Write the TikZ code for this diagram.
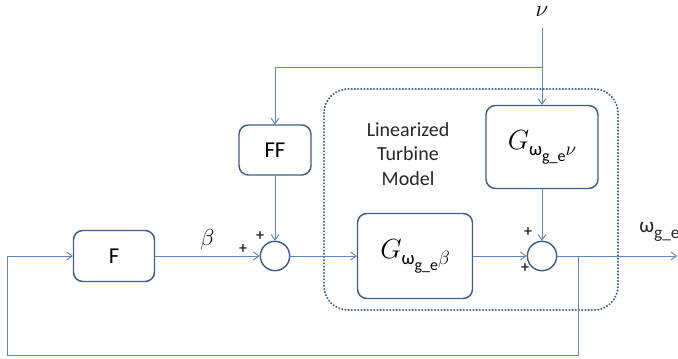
\documentclass[tikz,border=0pt]{standalone}
\usepackage{fontspec}
\setmainfont{Carlito}
\usetikzlibrary{arrows.meta}
\definecolor{wireblue}{RGB}{95,135,185}
\definecolor{boxblue}{RGB}{60,95,140}
\definecolor{dotblue}{RGB}{55,90,135}
% transfer function G with a two level subscript
\newcommand{\gtf}[1]{$G$\raisebox{-5pt}{\fontsize{14}{14}\selectfont ω\raisebox{-4pt}{\fontsize{12}{12}\selectfont g\_e}$#1$}}
\begin{document}
\begin{tikzpicture}[x = 0.75pt, y = -0.75pt,
  wire/.style = {draw = wireblue, line width = 0.7pt},
  sig/.style = {wire, -{Straight Barb[length = 4pt, width = 6pt]}},
  blockbox/.style = {draw = boxblue, line width = 1.1pt, rounded corners = 7pt, fill = white, align = center, inner sep = 0pt},
  sumnode/.style = {draw = boxblue, line width = 1.1pt, circle, minimum size = 22pt, inner sep = 0pt},
  plus/.style = {font = \fontsize{12}{12}\selectfont\bfseries, text = black!80}]
  \def \ymain {256};
  \def \yloop {355};
  \def \ytop {67};
  \def \xnu {542};

  \useasboundingbox (0, 0) rectangle (678, 359);

  % Draw the dotted model frame and its caption.
  \draw [dotblue, line width = 1.6pt, dash pattern = on 0.1pt off 2.3pt, line cap = round, rounded corners = 18pt]
    (324, 89) rectangle (618, 310);
  \node [align = center, font = \fontsize{15}{18.5}\selectfont, text = black!85] (caption) at (408, 154)
    {Linearized\\Turbine\\Model};

  % Draw blocks and summing junctions.
  \node [blockbox, minimum width = 60.75pt, minimum height = 38.25pt, font = \fontsize{17}{17}\selectfont] (F) at (114, \ymain) {F};
  \node [blockbox, minimum width = 54pt, minimum height = 37.5pt, font = \fontsize{17}{17}\selectfont] (FF) at (275, 150) {FF};
  \node [blockbox, minimum width = 86.25pt, minimum height = 63.75pt, font = \fontsize{20}{20}\selectfont] (Gbeta) at (415, \ymain)
    {\gtf{\beta}};
  \node [blockbox, minimum width = 84pt, minimum height = 62.25pt, font = \fontsize{20}{20}\selectfont] (Gnu) at (\xnu, 147)
    {\gtf{\nu}};
  \node [sumnode] (sumA) at (275, \ymain) {};
  \node [sumnode] (sumB) at (\xnu, \ymain) {};

  % Free ends of the wires.
  \coordinate (nuin) at (\xnu, 28);
  \coordinate (nusplit) at (\xnu, \ytop);
  \coordinate (out) at (677, \ymain);
  \coordinate (tap) at (578, \ymain);

  % Draw signal wires.
  \draw [sig] (F) -- node [above = 1pt, font = \fontsize{17}{17}\selectfont] (betalabel) {$\beta$} (sumA);
  \draw [sig] (sumA) -- (Gbeta);
  \draw [sig] (Gbeta) -- (sumB);
  \draw [sig] (Gnu) -- (sumB);
  \draw [sig] (nuin) -- (Gnu);
  \draw [sig] (nusplit) -| (FF);
  \draw [sig] (FF) -- (sumA);
  \draw [sig] (sumB) -- (out);
  \draw [sig] (tap) -- (tap |- 0, \yloop) -- (7, \yloop) -- (7, \ymain) -- (F);

  % Draw labels and signs.
  \node [font = \fontsize{16}{16}\selectfont] (nulabel) at (\xnu, 12) {$\nu$};
  \node [font = \fontsize{16}{16}\selectfont, text = black!85, anchor = west, inner sep = 0pt] (outlabel) at (639, 232)
    {ω\raisebox{-4pt}{\fontsize{13}{13}\selectfont g\_e}};
  \node [plus] (pA1) at (243, 249) {+};
  \node [plus] (pA2) at (260, 236) {+};
  \node [plus] (pB1) at (528, 232) {+};
  \node [plus] (pB2) at (525, 268) {+};
\end{tikzpicture}
\end{document}
